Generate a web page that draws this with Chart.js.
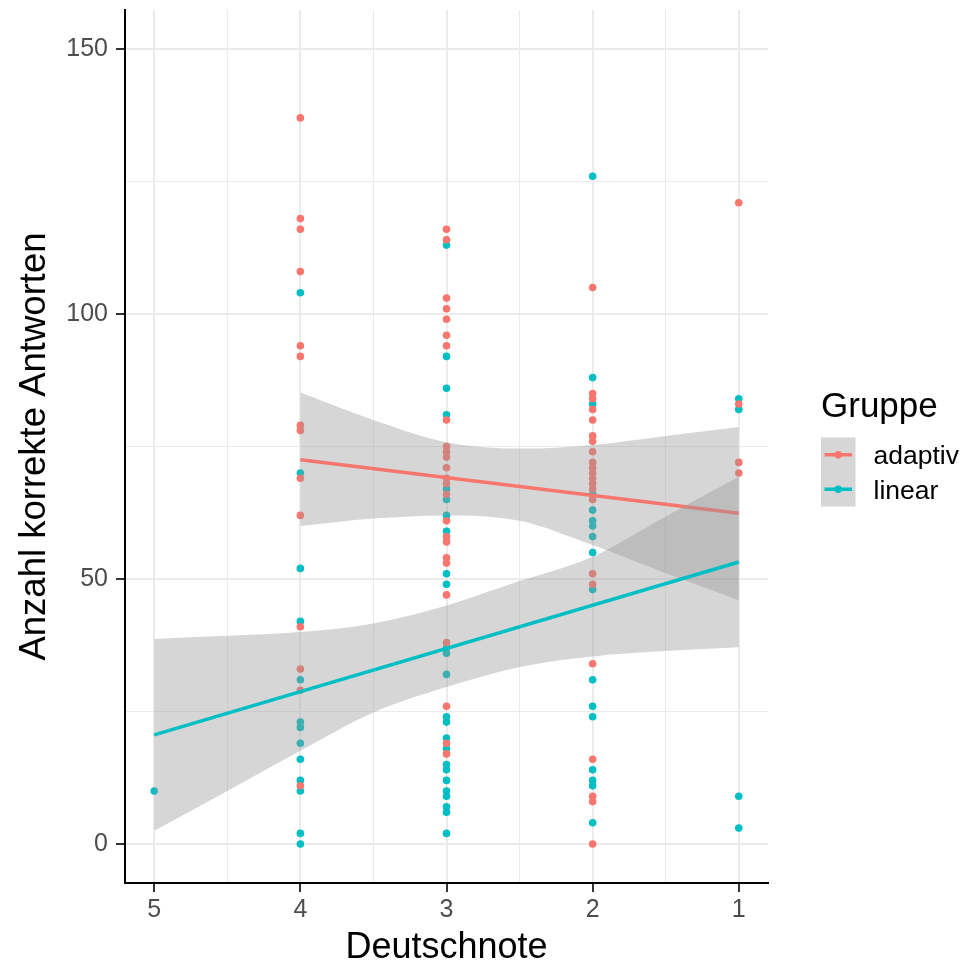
<!DOCTYPE html>
<html>
<head>
<meta charset="utf-8">
<script src="https://cdn.jsdelivr.net/npm/chart.js@4.4.1/dist/chart.umd.min.js"></script>
<style>
html,body{margin:0;padding:0;background:#ffffff;}
#wrap{width:964px;height:964px;}
</style>
</head>
<body>
<div id="wrap"><canvas id="c" width="964" height="964"></canvas></div>
<script>
// ---- data ----
const groups = ['adaptiv', 'linear'];
const groupColors = ['#F8766D', '#00BFC4'];
const legendTitle = 'Gruppe';
const xTitle = 'Deutschnote';
const yTitle = 'Anzahl korrekte Antworten';
const xTickValues = [5, 4, 3, 2, 1];
const yTickValues = [0, 50, 100, 150];

// adaptiv scores per grade (Deutschnote)
const adaptivNote4 = [137, 118, 116, 108, 94, 92, 79, 78, 69, 62, 41, 33, 29, 11];
const adaptivNote3 = [116, 114, 103, 101, 99, 96, 94, 80, 75, 74, 73, 71, 69, 68, 66, 61, 58, 57, 54, 53, 47, 38, 26, 19, 17];
const adaptivNote2 = [105, 85, 84, 82, 80, 77, 76, 74, 72, 71, 70, 69, 68, 67, 65, 51, 49, 34, 16, 9, 8, 0];
const adaptivNote1 = [121, 83, 72, 70];

// linear scores per grade
const linearNote5 = [10];
const linearNote4 = [104, 70, 52, 42, 31, 23, 22, 19, 16, 12, 10, 2, 0];
const linearNote3 = [113, 92, 86, 81, 67, 65, 62, 59, 51, 49, 37, 36, 32, 24, 23, 20, 18, 15, 14, 12, 10, 9, 7, 6, 2];
const linearNote2 = [126, 88, 83, 66, 63, 61, 60, 58, 55, 48, 31, 26, 24, 14, 12, 11, 4];
const linearNote1 = [84, 82, 9, 3];

// fitted lines (lm) and confidence bands
const adaptivFitX = [4, 1];
const adaptivFitY = [72.5, 62.4];
const linearFitX = [5, 1];
const linearFitY = [20.6, 53.2];

const adaptivBandX = [4, 3.5, 3, 2.5, 2, 1.5, 1];
const adaptivBandHigh = [85.2, 80.0, 75.8, 74.6, 75.3, 77.0, 78.7];
const adaptivBandLow = [60.0, 61.4, 62.0, 61.0, 56.4, 51.1, 46.0];

const linearBandX = [5, 4.5, 4, 3.5, 3, 2.5, 2, 1.5, 1];
const linearBandHigh = [38.7, 39.3, 40.0, 41.6, 45.0, 49.6, 54.2, 61.8, 69.3];
const linearBandLow = [2.5, 10.0, 17.6, 24.8, 29.6, 33.4, 35.4, 36.4, 37.1];

// ---- helpers ----
function pts(x, arr) { return arr.map(y => ({ x: x, y: y })); }
function zip(xs, ys) { return xs.map((x, i) => ({ x: x, y: ys[i] })); }

const adaptivPoints = [].concat(pts(4, adaptivNote4), pts(3, adaptivNote3), pts(2, adaptivNote2), pts(1, adaptivNote1));
const linearPoints = [].concat(pts(5, linearNote5), pts(4, linearNote4), pts(3, linearNote3), pts(2, linearNote2), pts(1, linearNote1));

const FONT = '"Liberation Sans", Arial, Helvetica, sans-serif';
const bandFill = 'rgba(153,153,153,0.4)';

const legendPlugin = {
  id: 'ggLegend',
  afterDraw(chart) {
    const ctx = chart.ctx;
    ctx.save();
    ctx.textAlign = 'left';
    ctx.textBaseline = 'alphabetic';
    ctx.fillStyle = '#000000';
    ctx.font = '35px ' + FONT;
    ctx.fillText(legendTitle, 821, 416.5);
    const keyLeft = 821, keyTop = 437.5, keySize = 34.5;
    groups.forEach((g, i) => {
      const top = keyTop + i * keySize;
      ctx.fillStyle = bandFill;
      ctx.fillRect(keyLeft, top, keySize, keySize);
      const cy = top + keySize / 2;
      ctx.strokeStyle = groupColors[i];
      ctx.lineWidth = 3.5;
      ctx.beginPath();
      ctx.moveTo(keyLeft + 3.5, cy);
      ctx.lineTo(keyLeft + keySize - 3.5, cy);
      ctx.stroke();
      ctx.fillStyle = groupColors[i];
      ctx.beginPath();
      ctx.arc(keyLeft + keySize / 2, cy, 3.8, 0, Math.PI * 2);
      ctx.fill();
      ctx.fillStyle = '#000000';
      ctx.font = '26.5px ' + FONT;
      ctx.fillText(g, 873.5, cy + 9.5);
    });
    ctx.restore();
  }
};

const isMajorX = v => Number.isInteger(v);
const isMajorY = v => v % 50 === 0;

new Chart(document.getElementById('c'), {
  type: 'scatter',
  data: {
    datasets: [
      { label: 'linear', type: 'scatter', data: linearPoints, backgroundColor: groupColors[1], borderWidth: 0, pointRadius: 3.8, order: 7 },
      { label: 'adaptiv', type: 'scatter', data: adaptivPoints, backgroundColor: groupColors[0], borderWidth: 0, pointRadius: 3.8, order: 6 },
      { label: 'adaptiv hi', type: 'line', data: zip(adaptivBandX, adaptivBandHigh), showLine: true, borderWidth: 0, borderColor: 'rgba(0,0,0,0)', pointRadius: 0, fill: false, cubicInterpolationMode: 'monotone', order: 5 },
      { label: 'adaptiv lo', type: 'line', data: zip(adaptivBandX, adaptivBandLow), showLine: true, borderWidth: 0, borderColor: 'rgba(0,0,0,0)', pointRadius: 0, fill: '-1', backgroundColor: bandFill, cubicInterpolationMode: 'monotone', order: 5 },
      { label: 'adaptiv fit', type: 'line', data: zip(adaptivFitX, adaptivFitY), showLine: true, borderWidth: 3.5, borderColor: groupColors[0], pointRadius: 0, fill: false, order: 4 },
      { label: 'linear hi', type: 'line', data: zip(linearBandX, linearBandHigh), showLine: true, borderWidth: 0, borderColor: 'rgba(0,0,0,0)', pointRadius: 0, fill: false, cubicInterpolationMode: 'monotone', order: 3 },
      { label: 'linear lo', type: 'line', data: zip(linearBandX, linearBandLow), showLine: true, borderWidth: 0, borderColor: 'rgba(0,0,0,0)', pointRadius: 0, fill: '-1', backgroundColor: bandFill, cubicInterpolationMode: 'monotone', order: 3 },
      { label: 'linear fit', type: 'line', data: zip(linearFitX, linearFitY), showLine: true, borderWidth: 3.5, borderColor: groupColors[1], pointRadius: 0, fill: false, order: 2 }
    ]
  },
  options: {
    responsive: false,
    devicePixelRatio: 1,
    animation: false,
    events: [],
    layout: { padding: { left: 0, right: 196, top: 10, bottom: 0 } },
    plugins: {
      legend: { display: false },
      tooltip: { enabled: false },
      filler: { propagate: false }
    },
    scales: {
      x: {
        type: 'linear',
        reverse: true,
        min: 0.8,
        max: 5.2,
        afterBuildTicks(scale) {
          const t = [];
          xTickValues.forEach(v => { t.push(v); if (v > 1) t.push(v - 0.5); });
          scale.ticks = t.sort((a, b) => a - b).map(v => ({ value: v }));
        },
        afterFit(scale) { scale.height = 81; scale.paddingLeft = 0; scale.paddingRight = 0; },
        ticks: {
          autoSkip: false, maxRotation: 0, minRotation: 0, padding: 3,
          color: '#4D4D4D', font: { family: FONT, size: 25 },
          callback: v => (isMajorX(v) ? String(v) : '')
        },
        grid: {
          color: '#EBEBEB',
          lineWidth: c => (c.tick && isMajorX(c.tick.value) ? 2 : 1),
          tickLength: 9,
          tickColor: c => (c.tick && isMajorX(c.tick.value) ? '#333333' : 'rgba(0,0,0,0)'),
          tickWidth: 2
        },
        border: { display: true, color: '#000000', width: 2 },
        title: { display: true, text: xTitle, color: '#000000', font: { family: FONT, size: 36, lineHeight: 1.2 }, padding: { top: 0, bottom: -6 } }
      },
      y: {
        type: 'linear',
        min: -7.36,
        max: 157.36,
        afterBuildTicks(scale) {
          const t = [];
          yTickValues.forEach(v => { t.push(v); if (v < 150) t.push(v + 25); });
          scale.ticks = t.sort((a, b) => a - b).map(v => ({ value: v }));
        },
        afterFit(scale) { scale.width = 125; scale.paddingTop = 0; scale.paddingBottom = 0; },
        ticks: {
          autoSkip: false, padding: 8,
          color: '#4D4D4D', font: { family: FONT, size: 25 },
          callback: v => (isMajorY(v) ? String(v) : '')
        },
        grid: {
          color: '#EBEBEB',
          lineWidth: c => (c.tick && isMajorY(c.tick.value) ? 2 : 1),
          tickLength: 9,
          tickColor: c => (c.tick && isMajorY(c.tick.value) ? '#333333' : 'rgba(0,0,0,0)'),
          tickWidth: 2
        },
        border: { display: true, color: '#000000', width: 2 },
        title: { display: true, text: yTitle, color: '#000000', font: { family: FONT, size: 36.5, lineHeight: 1.2 }, padding: { top: 13, bottom: 0 } }
      }
    }
  },
  plugins: [legendPlugin]
});
</script>
</body>
</html>
